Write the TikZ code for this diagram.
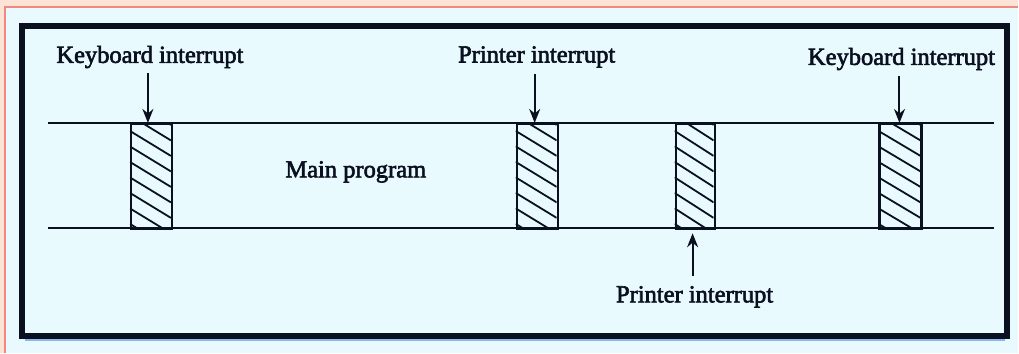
\documentclass[tikz,border=0pt]{standalone}
\usepackage{fontspec}
\setmainfont{Liberation Serif}
\newfontfamily\heavyserif{Liberation Serif}[FakeBold=2.5]
\usetikzlibrary{arrows.meta}
\definecolor{peach}{HTML}{FCE3D6}
\definecolor{rim}{HTML}{F08A80}
\definecolor{paper}{HTML}{E9FAFF}
\definecolor{ink}{HTML}{0B1020}
\definecolor{haze}{HTML}{8FB4F0}
\tikzset{
  label/.style={font=\heavyserif\fontsize{24.5}{26}\selectfont, text=ink, inner sep=0pt},
  rail/.style={draw=ink, line width=2.2pt},
  isr/.style={draw=ink, line width=2.4pt},
  hatch/.style={draw=ink, line width=1.8pt},
  ptr/.style={draw=ink, line width=2pt, -{Stealth[length=14pt,width=11pt]}},
}
\begin{document}
\begin{tikzpicture}[x=1pt, y=-1pt]
  % page and surround
  \fill[peach] (0,0) rectangle (1019,353);
  \fill[paper] (5,7) rectangle (1019,353);
  \draw[rim, line width=1.2pt] (5,353) -- (5,7) -- (1019,7);
  \useasboundingbox (0,0) rectangle (1019,353);
  % outer frame with a soft blue edge below
  \draw[haze, line width=3pt] (25,340) -- (1006,340);
  \draw[ink, line width=6pt] (22,26) rectangle (1008,336);

  % time rails of the main program
  \coordinate (topL) at (48,123);
  \coordinate (topR) at (995,123);
  \coordinate (botL) at (48,228);
  \coordinate (botR) at (995,228);
  \draw[rail] (topL) -- (topR);
  \draw[rail] (botL) -- (botR);

  % interrupt service blocks (hatched)
  \foreach \n/\xa/\xb in {k1/130/171, p1/516/557, p2/675/714, k2/879/921}{
    \begin{scope}
      \clip (\xa,123) rectangle (\xb,228);
      \foreach \k in {-2,...,8}{
        \draw[hatch] (\xa,100+\k*15.5) -- (\xb,125+\k*15.5);
      }
    \end{scope}
    \node[isr, minimum width=\xb pt-\xa pt, minimum height=105pt, inner sep=0pt,
          anchor=north west] (\n) at (\xa,123) {};
  }

  % labels
  \node[label] (lk1) at (150,57) {Keyboard interrupt};
  \node[label] (lp1) at (537,57) {Printer interrupt};
  \node[label] (lk2) at (902,59) {Keyboard interrupt};
  \node[label] (lp2) at (695,297) {Printer interrupt};
  \node[label] (main) at (356,172) {Main program};

  % arrows to the interrupt points
  \coordinate (a1) at (148,73);
  \coordinate (a2) at (535,74);
  \coordinate (a3) at (900,76);
  \coordinate (a4) at (693,276);
  \draw[ptr] (a1) -- (k1.north -| a1);
  \draw[ptr] (a2) -- (p1.north -| a2);
  \draw[ptr] (a3) -- (k2.north -| a3);
  \draw[ptr] (a4) -- ([yshift=-3pt]p2.south -| a4);
\end{tikzpicture}
\end{document}
